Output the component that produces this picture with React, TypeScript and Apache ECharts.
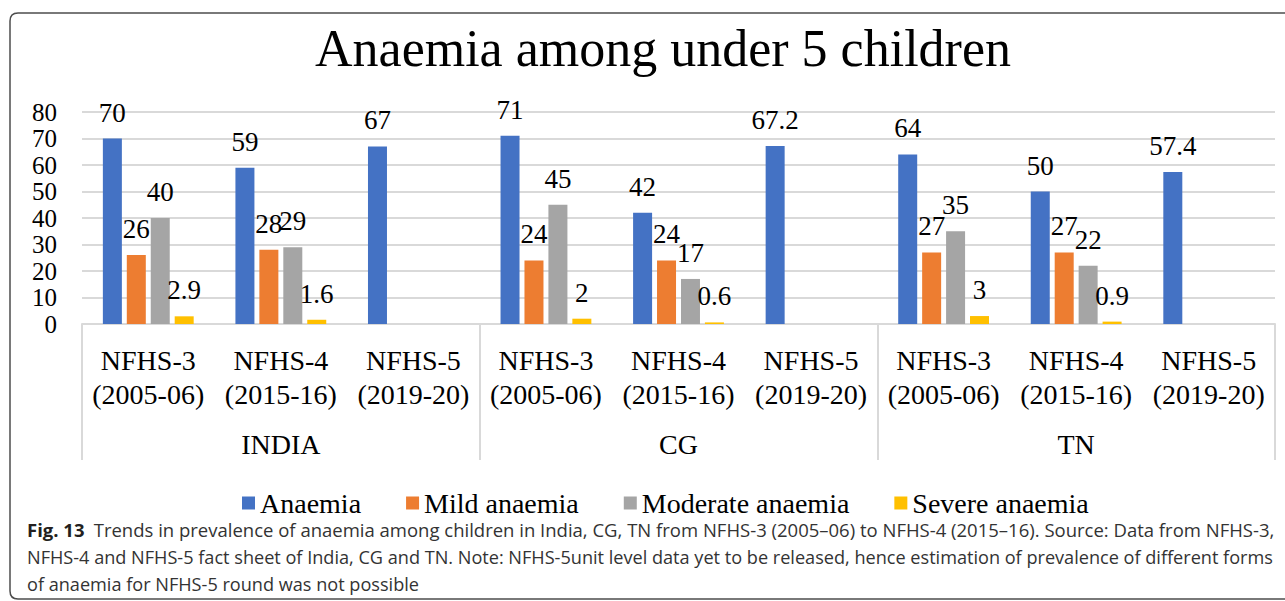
import React, { useEffect, useRef } from "react";
import * as echarts from "echarts";

const titleText = "Anaemia among under 5 children";
const rounds = [
  "NFHS-3\n(2005-06)", "NFHS-4\n(2015-16)", "NFHS-5\n(2019-20)",
  "NFHS-3\n(2005-06)", "NFHS-4\n(2015-16)", "NFHS-5\n(2019-20)",
  "NFHS-3\n(2005-06)", "NFHS-4\n(2015-16)", "NFHS-5\n(2019-20)",
];
const regions = ["INDIA", "CG", "TN"];
const seriesNames = ["Anaemia", "Mild anaemia", "Moderate anaemia", "Severe anaemia"];
const anaemia = [70, 59, 67, 71, 42, 67.2, 64, 50, 57.4];
const mild = [26, 28, null, 24, 24, null, 27, 27, null];
const moderate = [40, 29, null, 45, 17, null, 35, 22, null];
const severe = [2.9, 1.6, null, 2, 0.6, null, 3, 0.9, null];
const yTicks = { min: 0, max: 80, interval: 10 };

const captionBold = "Fig. 13";
const captionLines = [
  "Trends in prevalence of anaemia among children in India, CG, TN from NFHS-3 (2005–06) to NFHS-4 (2015–16). Source: Data from NFHS-3,",
  "NFHS-4 and NFHS-5 fact sheet of India, CG and TN. Note: NFHS-5unit level data yet to be released, hence estimation of prevalence of different forms",
  "of anaemia for NFHS-5 round was not possible",
];

const colors = ["#4472C4", "#ED7D31", "#A5A5A5", "#FFC000"];
const SERIF = "Liberation Serif";
const SANS = "Open Sans";

const framePath = "M 1300 13 L 18 13 Q 10 13 10 21 L 10 591 Q 10 599 18 599 L 1300 599";
let frameRegistered = false;
function registerFrame() {
  if (frameRegistered) return;
  echarts.graphic.registerShape("frame", (echarts.graphic as any).extendPath(framePath, {}));
  frameRegistered = true;
}

function measure(text: string, font: string): number {
  const c = document.createElement("canvas");
  const ctx = c.getContext("2d");
  if (!ctx) return text.length * 9;
  ctx.font = font;
  return ctx.measureText(text).width;
}

export default function App() {
  const ref = useRef<HTMLDivElement>(null);

  useEffect(() => {
    document.body.style.margin = "0";
    if (!ref.current) return;
    registerFrame();
    const chart = echarts.init(ref.current, null, { renderer: "svg" });

    const capSize = 18;
    const boldFont = `bold ${capSize}px "${SANS}"`;
    const normFont = `${capSize}px "${SANS}"`;
    const wB = measure(captionBold, boldFont);
    const gap = 9;
    const w1 = measure(captionLines[0], normFont);
    const w2 = measure(captionLines[1], normFont);
    const x0 = 27;
    const xEnd = 1274;
    const s1 = (xEnd - x0) / (wB + gap + w1);
    const s2 = (xEnd - x0) / w2;
    const lineY = [530, 557, 584];

    const valueSeries = [anaemia, mild, moderate, severe];
    const serifText = { fontFamily: SERIF, color: "#000", fontWeight: "normal" as const };
    const labelRich = { n: { fontFamily: SERIF, fontSize: 27, color: "#000", lineHeight: 22 } };
    const tickRich = { n: { fontFamily: SERIF, fontSize: 25, color: "#000", lineHeight: 20 } };

    chart.setOption({
      animation: false,
      color: colors,
      textStyle: { fontFamily: SERIF },
      title: {
        text: titleText,
        left: 310,
        top: 17,
        textStyle: { ...serifText, fontSize: 52 },
      },
      legend: {
        data: seriesNames,
        left: 237,
        top: 484,
        itemWidth: 13,
        itemHeight: 13,
        itemGap: 45,
        selectedMode: false,
        icon: "rect",
        textStyle: { ...serifText, fontSize: 28 },
      },
      grid: { left: 82, right: 10, top: 112, bottom: 277, containLabel: false },
      xAxis: [
        {
          type: "category",
          data: rounds,
          position: "bottom",
          axisLine: { show: true, lineStyle: { color: "#d9d9d9", width: 2 } },
          axisTick: { show: false },
          axisLabel: {
            ...serifText,
            interval: 0,
            margin: 19,
            fontSize: 28,
            lineHeight: 34,
          },
        },
        {
          type: "category",
          data: regions,
          position: "bottom",
          axisLine: { show: false },
          axisTick: { show: true, interval: 0, length: 136, lineStyle: { color: "#d9d9d9", width: 2 } },
          axisLabel: {
            ...serifText,
            interval: 0,
            margin: 106,
            fontSize: 28,
          },
        },
      ],
      yAxis: {
        type: "value",
        min: yTicks.min,
        max: yTicks.max,
        interval: yTicks.interval,
        axisLine: { show: false },
        axisTick: { show: false },
        splitLine: { lineStyle: { color: "#d9d9d9", width: 2 } },
        axisLabel: {
          margin: 25,
          showMinLabel: true,
          showMaxLabel: true,
          hideOverlap: false,
          formatter: (v: number) => `{n|${v}}`,
          rich: tickRich,
        },
      },
      series: valueSeries.map((d, i) => ({
        name: seriesNames[i],
        type: "bar",
        xAxisIndex: 0,
        data: d,
        barWidth: 19,
        barGap: "26%",
        itemStyle: { color: colors[i] },
        label: {
          show: true,
          position: "top",
          distance: 15,
          formatter: (p: any) => `{n|${p.value}}`,
          rich: labelRich,
        },
      })),
      graphic: [
        {
          type: "frame",
          z: -10,
          x: 0,
          y: 0,
          style: { fill: "none", stroke: "#4d4d4d", lineWidth: 1.5 },
        },
        {
          type: "text",
          x: x0,
          y: lineY[0],
          scaleX: s1,
          style: {
            text: captionBold,
            font: boldFont,
            fill: "#231f20",
            textVerticalAlign: "middle",
          },
        },
        {
          type: "text",
          x: x0 + (wB + gap) * s1,
          y: lineY[0],
          scaleX: s1,
          style: {
            text: captionLines[0],
            font: normFont,
            fill: "#333",
            textVerticalAlign: "middle",
          },
        },
        {
          type: "text",
          x: x0,
          y: lineY[1],
          scaleX: s2,
          style: {
            text: captionLines[1],
            font: normFont,
            fill: "#333",
            textVerticalAlign: "middle",
          },
        },
        {
          type: "text",
          x: x0,
          y: lineY[2],
          scaleX: s2,
          style: {
            text: captionLines[2],
            font: normFont,
            fill: "#333",
            textVerticalAlign: "middle",
          },
        },
      ],
    });

    return () => chart.dispose();
  }, []);

  return (
    <div
      ref={ref}
      style={{ position: "absolute", left: 0, top: 0, width: 1285, height: 601, background: "#fff", overflow: "hidden" }}
    />
  );
}
